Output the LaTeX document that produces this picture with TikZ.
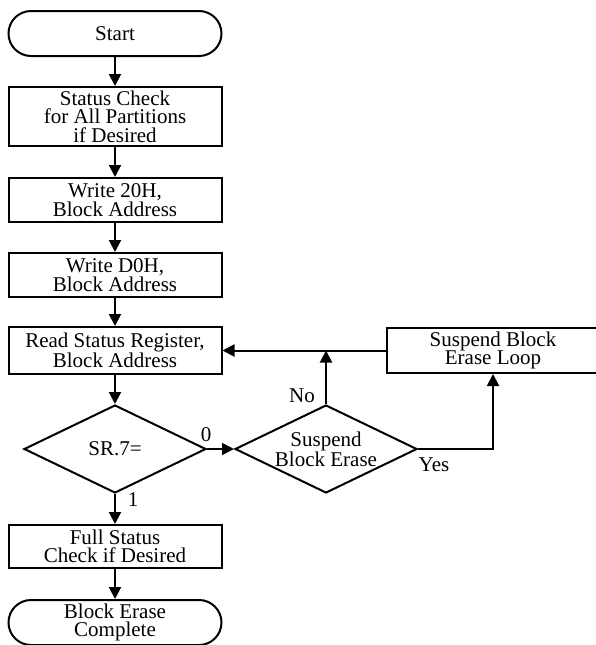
\documentclass[tikz,border=0pt]{standalone}
\usepackage{fontspec}
\setmainfont{Liberation Serif}
\usetikzlibrary{shapes.geometric,arrows.meta}
\begin{document}
\begin{tikzpicture}[x=1pt,y=-1pt,
  every node/.style={font=\fontsize{21}{18.5}\selectfont, inner sep=0pt, align=center},
  box/.style={draw, line width=2pt, rectangle, minimum width=213pt},
  term/.style={draw, line width=2pt, rectangle, rounded corners=22.5pt, minimum width=213pt, minimum height=45pt},
  dia/.style={draw, line width=2pt, diamond, minimum width=182pt, minimum height=88pt},
  arr/.style={line width=2pt, -{Triangle[length=12pt,width=12pt]}},
  lbl/.style={font=\fontsize{21}{18.5}\selectfont}]
\useasboundingbox (0,0) rectangle (596,645);
\node[term] (start) at (115,33.5) {Start};
\node[box, minimum height=59pt] (chk) at (115,116.5) {Status Check\\for All Partitions\\if Desired};
\node[box, minimum height=44pt] (w20) at (115,200) {Write 20H,\\Block Address};
\node[box, minimum height=44pt] (wd0) at (115,275) {Write D0H,\\Block Address};
\node[box, minimum height=47pt] (rsr) at (115,350.5) {Read Status Register,\\Block Address};
\node[dia] (sr7) at (115,449) {};
\node (sr7t) at (sr7.center) {SR.7=};
\node[box, minimum height=43pt] (full) at (115,546.5) {Full Status\\Check if Desired};
\node[term] (done) at (115,622.5) {Block Erase\\Complete};
\node[dia] (susp) at (326,449) {};
\node (suspt) at (susp.center) {Suspend\\Block Erase};
\node[box, minimum width=212pt, minimum height=45pt] (loop) at (493,350.5) {Suspend Block\\Erase Loop};
\coordinate (junc) at (susp.north |- rsr.east);
\draw[arr] (start) -- (chk);
\draw[arr] (chk) -- (w20);
\draw[arr] (w20) -- (wd0);
\draw[arr] (wd0) -- (rsr);
\draw[arr] (rsr) -- (sr7);
\draw[arr] (sr7) -- (full);
\draw[arr] (full) -- (done);
\draw[arr] (sr7.east) -- (susp.west);
\draw[arr] (susp.north) -- (junc);
\draw[arr] (loop.west) -- (rsr.east);
\draw[arr] (susp.east) -| (loop.south);
\node[lbl] (l0) at (206,435) {0};
\node[lbl] (l1) at (133,500) {1};
\node[lbl] (lno) at (302,396) {No};
\node[lbl] (lyes) at (434,465) {Yes};
\end{tikzpicture}
\end{document}
